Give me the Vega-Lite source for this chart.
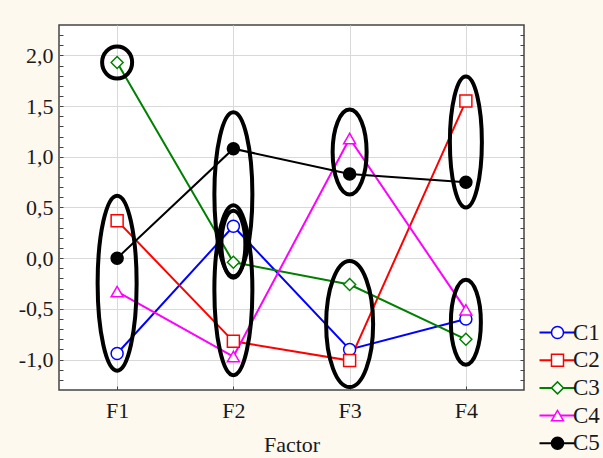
{
  "$schema": "https://vega.github.io/schema/vega-lite/v6.json",
  "width": 465,
  "height": 365,
  "autosize": {"type": "none"},
  "padding": {"left": 59, "top": 25, "right": 79, "bottom": 68},
  "background": "#FDF9EF",
  "config": {
    "view": {"fill": "white", "stroke": "#444444", "strokeWidth": 1.5},
    "font": "Liberation Serif"
  },
  "datasets": {
    "means": [
      {"series": "C1", "factor": "F1", "value": -0.94},
      {"series": "C1", "factor": "F2", "value": 0.315},
      {"series": "C1", "factor": "F3", "value": -0.9},
      {"series": "C1", "factor": "F4", "value": -0.6},
      {"series": "C2", "factor": "F1", "value": 0.37},
      {"series": "C2", "factor": "F2", "value": -0.82},
      {"series": "C2", "factor": "F3", "value": -1.01},
      {"series": "C2", "factor": "F4", "value": 1.55},
      {"series": "C3", "factor": "F1", "value": 1.93},
      {"series": "C3", "factor": "F2", "value": -0.04},
      {"series": "C3", "factor": "F3", "value": -0.26},
      {"series": "C3", "factor": "F4", "value": -0.8},
      {"series": "C4", "factor": "F1", "value": -0.33},
      {"series": "C4", "factor": "F2", "value": -0.97},
      {"series": "C4", "factor": "F3", "value": 1.18},
      {"series": "C4", "factor": "F4", "value": -0.51},
      {"series": "C5", "factor": "F1", "value": 0.0},
      {"series": "C5", "factor": "F2", "value": 1.08},
      {"series": "C5", "factor": "F3", "value": 0.83},
      {"series": "C5", "factor": "F4", "value": 0.75}
    ],
    "rings": [
      {"ring": "E1", "factor": "F1", "value": 1.93},
      {"ring": "E2", "factor": "F1", "value": -0.246},
      {"ring": "E3", "factor": "F2", "value": 0.631},
      {"ring": "E4", "factor": "F2", "value": 0.138},
      {"ring": "E5", "factor": "F2", "value": -0.315},
      {"ring": "E6", "factor": "F3", "value": 1.047},
      {"ring": "E7", "factor": "F3", "value": -0.65},
      {"ring": "E8", "factor": "F4", "value": 1.146},
      {"ring": "E9", "factor": "F4", "value": -0.631}
    ]
  },
  "resolve": {"axis": {"y": "independent"}},
  "layer": [
    {
      "data": {"name": "means"},
      "mark": {"type": "line", "strokeWidth": 2},
      "encoding": {
        "x": {
          "field": "factor", "type": "nominal",
          "scale": {"type": "point", "padding": 0.5},
          "axis": {
            "orient": "bottom", "labelAngle": 0, "domain": false,
            "grid": true, "gridColor": "#d9d9d9", "gridWidth": 1,
            "tickSize": -4, "tickColor": "#444444", "labelPadding": 14,
            "labelFont": "Liberation Serif", "labelFontSize": 22, "labelColor": "#1a1a1a",
            "title": "Factor", "titleFont": "Liberation Serif", "titleFontSize": 22,
            "titleFontWeight": "normal", "titleColor": "#1a1a1a", "titlePadding": 13
          }
        },
        "y": {
          "field": "value", "type": "quantitative",
          "scale": {"domain": [-1.3, 2.3], "nice": false, "zero": false},
          "axis": {
            "orient": "left", "title": null, "domain": false,
            "values": [-1.2, -1.1, -1.0, -0.9, -0.8, -0.7, -0.6, -0.5, -0.4, -0.3, -0.2, -0.1, 0, 0.1, 0.2, 0.3, 0.4, 0.5, 0.6, 0.7, 0.8, 0.9, 1.0, 1.1, 1.2, 1.3, 1.4, 1.5, 1.6, 1.7, 1.8, 1.9, 2.0, 2.1, 2.2],
            "labelExpr": "abs(datum.value*2 - round(datum.value*2)) < 0.001 ? (datum.value < -0.001 ? '-' : '') + replace(format(abs(datum.value), '.1f'), '.', ',') : ''",
            "labelOverlap": false,
            "grid": true, "gridColor": "#d9d9d9", "gridWidth": 1,
            "gridOpacity": {"condition": {"test": "abs(datum.value*2 - round(datum.value*2)) < 0.001", "value": 1}, "value": 0},
            "tickSize": -4, "tickColor": "#444444", "labelPadding": 10,
            "labelFont": "Liberation Serif", "labelFontSize": 22, "labelColor": "#1a1a1a"
          }
        },
        "color": {
          "field": "series", "type": "nominal",
          "scale": {"domain": ["C1", "C2", "C3", "C4", "C5"], "range": ["#0000FF", "#FF0000", "#008000", "#FF00FF", "#000000"]},
          "legend": {
            "orient": "none", "legendX": 487, "legendY": 296, "title": null,
            "padding": 0, "symbolType": "M-3,0H3", "symbolSize": 144, "symbolStrokeWidth": 2,
            "symbolFillColor": "transparent",
            "labelFont": "Liberation Serif", "labelFontSize": 23, "labelOpacity": 0,
            "labelOffset": 4, "rowPadding": 3.7, "zindex": 0
          }
        }
      }
    },
    {
      "data": {"name": "means"},
      "mark": {"type": "point", "size": 144, "strokeWidth": 1.5, "opacity": 1},
      "encoding": {
        "x": {"field": "factor", "type": "nominal", "scale": {"type": "point", "padding": 0.5}},
        "y": {
          "field": "value", "type": "quantitative",
          "scale": {"domain": [-1.3, 2.3], "nice": false, "zero": false},
          "axis": {
            "orient": "right", "title": null, "domain": false, "labels": false, "grid": false,
            "values": [-1.2, -1.1, -1.0, -0.9, -0.8, -0.7, -0.6, -0.5, -0.4, -0.3, -0.2, -0.1, 0, 0.1, 0.2, 0.3, 0.4, 0.5, 0.6, 0.7, 0.8, 0.9, 1.0, 1.1, 1.2, 1.3, 1.4, 1.5, 1.6, 1.7, 1.8, 1.9, 2.0, 2.1, 2.2],
            "tickSize": -4, "tickColor": "#444444"
          }
        },
        "shape": {
          "field": "series", "type": "nominal",
          "scale": {"range": ["circle", "square", "diamond", "triangle-up", "circle"]},
          "legend": {
            "orient": "none", "legendX": 487, "legendY": 296, "title": null,
            "padding": 0, "symbolSize": 144, "symbolStrokeWidth": 1.5,
            "labelFont": "Liberation Serif", "labelFontSize": 23, "labelColor": "#1a1a1a",
            "labelOffset": 4, "rowPadding": 3.7, "zindex": 1
          }
        },
        "stroke": {
          "field": "series", "type": "nominal",
          "scale": {"range": ["#0000FF", "#FF0000", "#008000", "#FF00FF", "#000000"]},
          "legend": {
            "orient": "none", "legendX": 487, "legendY": 296, "title": null,
            "padding": 0, "symbolSize": 144, "symbolStrokeWidth": 1.5,
            "labelFont": "Liberation Serif", "labelFontSize": 23, "labelColor": "#1a1a1a",
            "labelOffset": 4, "rowPadding": 3.7, "zindex": 1
          }
        },
        "fill": {
          "field": "series", "type": "nominal",
          "scale": {"range": ["#FFFFFF", "#FFFFFF", "#FFFFFF", "#FFFFFF", "#000000"]},
          "legend": {
            "orient": "none", "legendX": 487, "legendY": 296, "title": null,
            "padding": 0, "symbolSize": 144, "symbolStrokeWidth": 1.5,
            "labelFont": "Liberation Serif", "labelFontSize": 23, "labelColor": "#1a1a1a",
            "labelOffset": 4, "rowPadding": 3.7, "zindex": 1
          }
        }
      }
    },
    {
      "data": {"name": "rings"},
      "encoding": {
        "x": {"field": "factor", "type": "nominal", "scale": {"type": "point", "padding": 0.5}},
        "y": {"field": "value", "type": "quantitative", "scale": {"domain": [-1.3, 2.3], "nice": false, "zero": false}, "axis": null}
      },
      "layer": [
        {"transform": [{"filter": "datum.ring === 'E1'"}], "mark": {"type": "point", "size": 4, "filled": false, "color": "black", "strokeWidth": 4, "opacity": 1, "shape": "M-15,0A15,16 0 1,0 15,0A15,16 0 1,0 -15,0Z"}},
        {"transform": [{"filter": "datum.ring === 'E2'"}], "mark": {"type": "point", "size": 4, "filled": false, "color": "black", "strokeWidth": 4, "opacity": 1, "shape": "M-19.5,0A19.5,87.5 0 1,0 19.5,0A19.5,87.5 0 1,0 -19.5,0Z"}},
        {"transform": [{"filter": "datum.ring === 'E3'"}], "mark": {"type": "point", "size": 4, "filled": false, "color": "black", "strokeWidth": 4, "opacity": 1, "shape": "M-19,0A19,82 0 1,0 19,0A19,82 0 1,0 -19,0Z"}},
        {"transform": [{"filter": "datum.ring === 'E4'"}], "mark": {"type": "point", "size": 4, "filled": false, "color": "black", "strokeWidth": 4, "opacity": 1, "shape": "M-12,0A12,33.5 0 1,0 12,0A12,33.5 0 1,0 -12,0Z"}},
        {"transform": [{"filter": "datum.ring === 'E5'"}], "mark": {"type": "point", "size": 4, "filled": false, "color": "black", "strokeWidth": 4, "opacity": 1, "shape": "M-19,0A19,85 0 1,0 19,0A19,85 0 1,0 -19,0Z"}},
        {"transform": [{"filter": "datum.ring === 'E6'"}], "mark": {"type": "point", "size": 4, "filled": false, "color": "black", "strokeWidth": 4, "opacity": 1, "shape": "M-17,0A17,42.5 0 1,0 17,0A17,42.5 0 1,0 -17,0Z"}},
        {"transform": [{"filter": "datum.ring === 'E7'"}], "mark": {"type": "point", "size": 4, "filled": false, "color": "black", "strokeWidth": 4, "opacity": 1, "shape": "M-23.5,0A23.5,63 0 1,0 23.5,0A23.5,63 0 1,0 -23.5,0Z"}},
        {"transform": [{"filter": "datum.ring === 'E8'"}], "mark": {"type": "point", "size": 4, "filled": false, "color": "black", "strokeWidth": 4, "opacity": 1, "shape": "M-16,0A16,65.5 0 1,0 16,0A16,65.5 0 1,0 -16,0Z"}},
        {"transform": [{"filter": "datum.ring === 'E9'"}], "mark": {"type": "point", "size": 4, "filled": false, "color": "black", "strokeWidth": 4, "opacity": 1, "shape": "M-15,0A15,42.5 0 1,0 15,0A15,42.5 0 1,0 -15,0Z"}}
      ]
    }
  ]
}
